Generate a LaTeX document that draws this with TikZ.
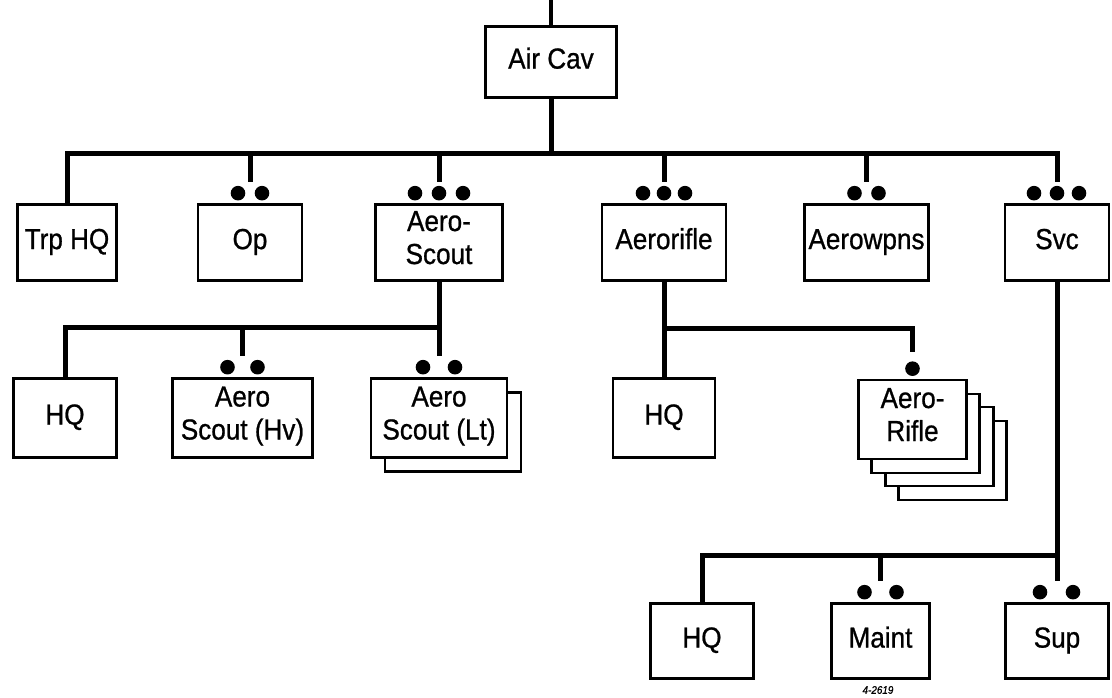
\documentclass[tikz,border=0pt]{standalone}
\usepackage{fontspec}
\setmainfont[FakeStretch=0.9, FakeBold=0.8]{Liberation Sans}
\usetikzlibrary{calc,shadows}

\newcommand{\unitdots}[2]{\foreach \dx in {#2} \fill ($(#1.north)+(\dx,10)$) circle (7.3);}

\begin{document}
\begin{tikzpicture}[x=1pt, y=1pt,
  unit/.style = {
    rectangle, draw, fill=white, line width=2.6pt,
    inner sep=0pt, align=center, font=\fontsize{29}{33}\selectfont,
    execute at begin node=\strut, execute at end node=\strut
  },
  toprow/.style = {unit, minimum height=76pt},
  midrow/.style = {unit, minimum height=79pt},
  lowrow/.style = {unit, minimum height=75pt},
  link/.style = {line width=5pt}
]
  \useasboundingbox (0,0) rectangle (1112,698);

  % headquarters
  \coordinate (feed) at (551,698);
  \node[unit, minimum width=131pt, minimum height=71pt] (aircav) at (551,636) {Air Cav};

  % troop elements
  \node[toprow, minimum width=99pt]  (trphq)  at (67,455.5)    {Trp HQ};
  \node[toprow, minimum width=104pt] (op)     at (250,455.5)   {Op};
  \node[toprow, minimum width=127pt] (ascout) at (439,455.5)   {Aero-\\Scout};
  \node[toprow, minimum width=124pt] (arifle) at (664,455.5)   {Aerorifle};
  \node[toprow, minimum width=124pt] (awpns)  at (866.5,455.5) {Aerowpns};
  \node[toprow, minimum width=104pt] (svc)    at (1057,455.5)  {Svc};

  % aeroscout and aerorifle platoons
  \node[midrow, minimum width=103pt] (hq1)   at (65,280)    {HQ};
  \node[midrow, minimum width=140pt] (hv)    at (242.5,280) {Aero\\Scout (Hv)};
  \node[midrow, minimum width=136pt,
        copy shadow={shadow xshift=14pt, shadow yshift=-14pt}] (lt) at (439,280) {Aero\\Scout (Lt)};
  \node[midrow, minimum width=102pt] (hq2)   at (664,280)   {HQ};
  \node[midrow, minimum width=108pt,
        copy shadow={shadow xshift=40pt, shadow yshift=-41pt},
        copy shadow={shadow xshift=27pt, shadow yshift=-27pt},
        copy shadow={shadow xshift=13pt, shadow yshift=-14pt}] (rifle) at (912.5,278.5) {Aero-\\Rifle};

  % service platoon
  \node[lowrow, minimum width=103pt] (hq3)   at (702,57)    {HQ};
  \node[lowrow, minimum width=98pt]  (maint) at (880.5,57)  {Maint};
  \node[lowrow, minimum width=103pt] (sup)   at (1057,57)   {Sup};
  \node[font=\fontsize{11}{13}\selectfont\itshape] (fignum) at (878,8) {4-2619};

  \coordinate (bus1) at (551,544);
  \coordinate (bus2) at (439,370);
  \coordinate (bus3) at (664,369);
  \coordinate (bus4) at (1057,142);

  \draw[line width=4pt] (feed) -- (aircav.north);
  \draw[link] (aircav.south) -- (bus1);
  \draw[link] (trphq.north) |- (bus1) -| ($(svc.north)+(0,21)$);
  \foreach \n in {op,ascout,arifle,awpns}
    \draw[link] (\n.north |- bus1) -- ($(\n.north)+(0,21)$);

  \draw[link] (ascout.south) -- ($(lt.north)+(0,21)$);
  \draw[link] (hq1.north) |- (bus2);
  \draw[link] (hv.north |- bus2) -- ($(hv.north)+(0,21)$);

  \draw[link] (arifle.south) -- (hq2.north);
  \draw[link] (bus3) -| ($(rifle.north)+(0,27)$);

  \draw[link] (svc.south) -- ($(sup.north)+(0,21)$);
  \draw[link] (hq3.north) |- (bus4);
  \draw[link] (maint.north |- bus4) -- ($(maint.north)+(0,21)$);

  \unitdots{op}{-12,12}
  \unitdots{ascout}{-24,0,24}
  \unitdots{arifle}{-21,0,21}
  \unitdots{awpns}{-12,12}
  \unitdots{svc}{-23,0,22}
  \unitdots{hv}{-15,15}
  \unitdots{lt}{-16,16}
  \unitdots{rifle}{0}
  \unitdots{maint}{-16,16}
  \unitdots{sup}{-17,16}
\end{tikzpicture}
\end{document}
